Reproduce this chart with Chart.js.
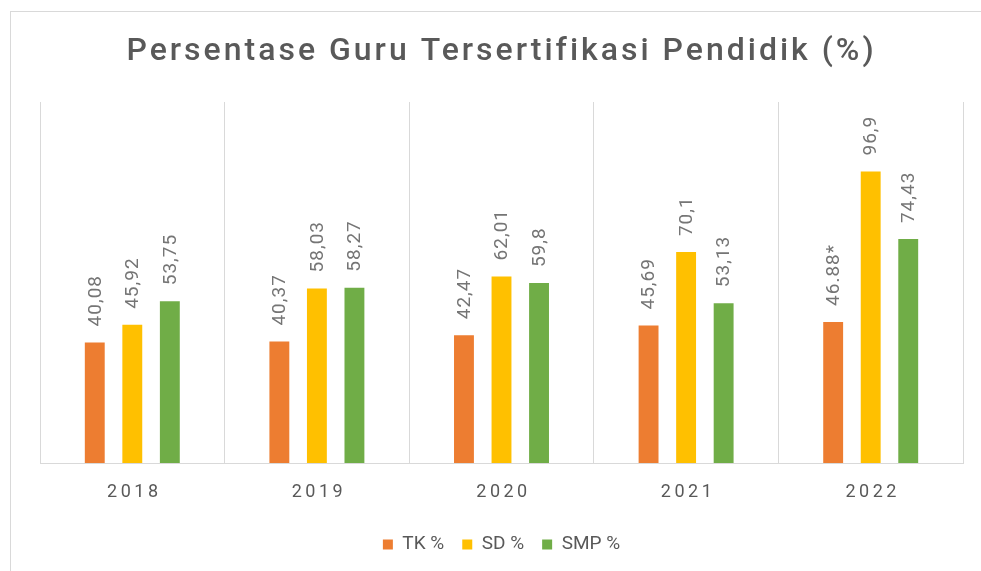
<!DOCTYPE html>
<html>
<head>
  <meta charset="UTF-8">
  <title>Persentase Guru Tersertifikasi Pendidik (%)</title>
  <script src="https://cdn.jsdelivr.net/npm/chart.js"></script>
  <style>
    html, body { margin: 0; padding: 0; background: #fff; overflow: hidden; }
    #wrap { position: relative; width: 981px; height: 571px; }
    #frame { position: absolute; left: 10px; top: 11px; width: 1000px; height: 600px; border: 1px solid #d9d9d9; box-sizing: border-box; }
    canvas { position: absolute; left: 0; top: 0; }
  </style>
</head>
<body>
<div id="wrap">
  <div id="frame"></div>
  <canvas id="chart" width="981" height="571"></canvas>
</div>
<script>
  const titleText = 'Persentase Guru Tersertifikasi Pendidik (%)';
  const years = ['2018', '2019', '2020', '2021', '2022'];
  const tkValues = [40.08, 40.37, 42.47, 45.69, 46.88];
  const sdValues = [45.92, 58.03, 62.01, 70.1, 96.9];
  const smpValues = [53.75, 58.27, 59.8, 53.13, 74.43];
  // the 2022 TK figure is printed differently in the source (dot + asterisk)
  const tkLabelOverride = { 4: '46.88*' };

  const textColor = '#595959';
  const labelColor = '#757575';
  const fontFamily = 'Roboto, "DejaVu Sans", sans-serif';

  function fmt(v) {
    return String(v).replace('.', ',');
  }

  // title + x labels drawn here so we can use letter spacing like the original
  const spacedText = {
    id: 'spacedText',
    afterDraw(chart) {
      const ctx = chart.ctx;
      const area = chart.chartArea;
      const x = chart.scales.x;
      ctx.save();
      ctx.fillStyle = textColor;
      ctx.textAlign = 'center';
      ctx.textBaseline = 'middle';

      ctx.font = '500 32px ' + fontFamily;
      ctx.letterSpacing = '3px';
      ctx.fillText(titleText, (area.left + area.right) / 2, 52);

      ctx.font = '18px ' + fontFamily;
      ctx.letterSpacing = '3.5px';
      years.forEach((y, i) => {
        ctx.fillText(y, x.getPixelForValue(i) + 2, area.bottom + 29);
      });
      ctx.restore();
    }
  };

  const barLabels = {
    id: 'barLabels',
    afterDatasetsDraw(chart) {
      const ctx = chart.ctx;
      ctx.save();
      ctx.fillStyle = labelColor;
      ctx.font = '19px ' + fontFamily;
      ctx.letterSpacing = '1px';
      ctx.textAlign = 'left';
      ctx.textBaseline = 'middle';
      chart.data.datasets.forEach((ds, di) => {
        chart.getDatasetMeta(di).data.forEach((bar, i) => {
          let txt = fmt(ds.data[i]);
          if (di === 0 && tkLabelOverride[i]) txt = tkLabelOverride[i];
          ctx.save();
          ctx.translate(bar.x, bar.y - 16);
          ctx.rotate(-Math.PI / 2);
          ctx.fillText(txt, 0, 1);
          ctx.restore();
        });
      });
      ctx.restore();
    }
  };

  new Chart(document.getElementById('chart'), {
    type: 'bar',
    data: {
      labels: years,
      datasets: [
        { label: 'TK %', data: tkValues, backgroundColor: '#ED7D31' },
        { label: 'SD %', data: sdValues, backgroundColor: '#FFC000' },
        { label: 'SMP %', data: smpValues, backgroundColor: '#70AD47' }
      ]
    },
    options: {
      responsive: false,
      animation: false,
      devicePixelRatio: 1,
      categoryPercentage: 0.61,
      barPercentage: 0.53,
      layout: { padding: { top: 102, left: 40, right: 18, bottom: 7 } },
      plugins: {
        title: { display: false },
        tooltip: { enabled: false },
        legend: {
          position: 'bottom',
          labels: {
            boxWidth: 10,
            boxHeight: 10,
            padding: 18,
            color: textColor,
            font: { family: fontFamily, size: 19 }
          }
        }
      },
      scales: {
        x: {
          ticks: { display: false },
          grid: { color: '#d9d9d9', drawTicks: false, offset: true },
          border: { color: '#d9d9d9' },
          afterFit(scale) { scale.height = 54; }
        },
        y: {
          display: false,
          min: 0,
          max: 120
        }
      }
    },
    plugins: [spacedText, barLabels]
  });
</script>
</body>
</html>
